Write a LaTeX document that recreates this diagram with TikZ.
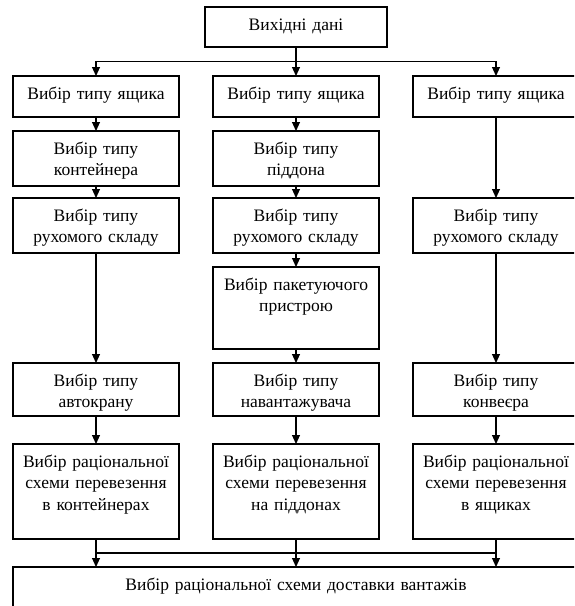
\documentclass[tikz,border=0pt]{standalone}
\usepackage{fontspec}
\setmainfont{Liberation Serif}
\usetikzlibrary{positioning, calc, arrows.meta}
\tikzset{
  blok/.style={draw, line width=1.1pt, outer sep=0pt, text width=160pt, inner xsep=3pt, inner ysep=10pt,
    align=center, text height=13pt, font=\fontsize{17.5pt}{21.5pt}\selectfont},
  strilka/.style={line width=1.1pt, -{Triangle[length=9pt,width=8pt]}}
}
\begin{document}
\begin{tikzpicture}[x=1pt, y=1pt]
  \useasboundingbox (0,0) rectangle (574,-606);
  \clip (0,0) rectangle (574,-606);
  \node [blok, text width=176pt, text depth=7pt] (vkh) at (296,-27) {Вихідні дані};
  \node [blok, text depth=8pt, below=29pt of vkh] (m1) {Вибір типу ящика};
  \node [blok, text depth=22pt, below=14pt of m1] (m2) {Вибір типу\\піддона};
  \node [blok, text depth=22pt, below=12pt of m2] (m3) {Вибір типу\\рухомого складу};
  \node [blok, text depth=49pt, below=14pt of m3] (m4) {Вибір пакетуючого\\пристрою};
  \node [blok, text depth=20pt, below=14pt of m4] (m5) {Вибір типу\\навантажувача};
  \node [blok, text depth=62pt, below=28pt of m5] (m6) {Вибір раціональної\\схеми перевезення\\на піддонах};
  \node [blok, text width=560pt, text depth=30pt, below=28pt of m6] (dost) {Вибір раціональної схеми доставки вантажів};
  \node [blok, text depth=8pt, left=34pt of m1] (l1) {Вибір типу ящика};
  \node [blok, text depth=22pt, left=34pt of m2] (l2) {Вибір типу\\контейнера};
  \node [blok, text depth=22pt, left=34pt of m3] (l3) {Вибір типу\\рухомого складу};
  \node [blok, text depth=20pt, left=34pt of m5] (l5) {Вибір типу\\автокрану};
  \node [blok, text depth=62pt, left=34pt of m6] (l6) {Вибір раціональної\\схеми перевезення\\в контейнерах};
  \node [blok, text depth=8pt, right=34pt of m1] (r1) {Вибір типу ящика};
  \node [blok, text depth=22pt, right=34pt of m3] (r3) {Вибір типу\\рухомого складу};
  \node [blok, text depth=20pt, right=34pt of m5] (r5) {Вибір типу\\конвеєра};
  \node [blok, text depth=62pt, right=34pt of m6] (r6) {Вибір раціональної\\схеми перевезення\\в ящиках};
  \coordinate (rozv) at ($(vkh.south)!0.5!(m1.north)$);
  \coordinate (zlyv) at ($(m6.south)!0.5!(dost.north)$);
  \draw [strilka] (vkh) -- (m1);
  \draw [strilka] (rozv) -| (l1.north);
  \draw [strilka] (rozv) -| (r1.north);
  \draw [strilka] (l1) -- (l2);
  \draw [strilka] (l2) -- (l3);
  \draw [strilka] (l3) -- (l5);
  \draw [strilka] (l5) -- (l6);
  \draw [strilka] (m1) -- (m2);
  \draw [strilka] (m2) -- (m3);
  \draw [strilka] (m3) -- (m4);
  \draw [strilka] (m4) -- (m5);
  \draw [strilka] (m5) -- (m6);
  \draw [strilka] (r1) -- (r3);
  \draw [strilka] (r3) -- (r5);
  \draw [strilka] (r5) -- (r6);
  \draw [line width=1.1pt] (l6.south |- zlyv) -- (r6.south |- zlyv);
  \draw [strilka] (l6.south) -- (l6.south |- dost.north);
  \draw [strilka] (m6.south) -- (m6.south |- dost.north);
  \draw [strilka] (r6.south) -- (r6.south |- dost.north);
\end{tikzpicture}
\end{document}
